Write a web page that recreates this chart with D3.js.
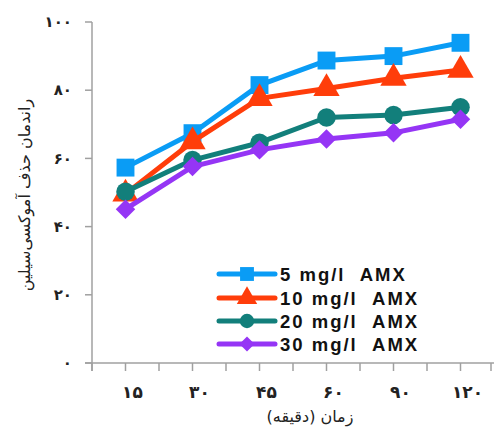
<!DOCTYPE html>
<html><head><meta charset="utf-8">
<script src="https://cdn.jsdelivr.net/npm/d3@7"></script>
<style>body{margin:0;background:#fff;}svg{display:block;}</style>
</head><body>
<svg id="c" width="494" height="430"></svg>
<script>
const categories = ["۱۵","۳۰","۴۵","۶۰","۹۰","۱۲۰"];
const yTickValues = [0,20,40,60,80,100];
const yTickLabels = ["۰","۲۰","۴۰","۶۰","۸۰","۱۰۰"];
const seriesNames = ["5 mg/l\u00a0\u00a0AMX","10 mg/l\u00a0\u00a0AMX","20 mg/l\u00a0\u00a0AMX","30 mg/l\u00a0\u00a0AMX"];
const s5  = [57.3, 67.4, 81.5, 88.7, 90.0, 93.9];
const s10 = [49.6, 64.9, 77.6, 80.5, 83.5, 85.9];
const s20 = [50.2, 59.5, 64.6, 72.0, 72.7, 75.0];
const s30 = [45.1, 57.6, 62.5, 65.7, 67.5, 71.5];
const colors = ["#0a9cf5","#ff3d0a","#127f7b","#9535f5"];
const symbols = [d3.symbolSquare, d3.symbolTriangle, d3.symbolCircle, d3.symbolSquare];
const symRot = [0, 0, 0, 45];
const symSizes = [320, 300, 270, 190];

const svg = d3.select("#c");
const L = 92, R = 494, T = 22, B = 363;
const x = d3.scaleBand().domain(categories).range([L, R]);
const y = d3.scaleLinear().domain([0,100]).range([B, T]);
const axisColor = "#a0a0a0";

// y axis
svg.append("line").attr("x1",L).attr("x2",L).attr("y1",T).attr("y2",B+8).attr("stroke",axisColor).attr("stroke-width",1.5);
yTickValues.forEach((v,i)=>{
  svg.append("line").attr("x1",L-7).attr("x2",L).attr("y1",y(v)).attr("y2",y(v)).attr("stroke",axisColor).attr("stroke-width",1.5);
  svg.append("text").attr("x",L-20).attr("y",y(v)).attr("dy","0.35em").attr("text-anchor","end")
    .attr("font-family","DejaVu Sans").attr("font-weight","bold").attr("font-size",15).attr("fill","#222").text(yTickLabels[i]);
});
// x axis
svg.append("line").attr("x1",L-7).attr("x2",R).attr("y1",B).attr("y2",B).attr("stroke",axisColor).attr("stroke-width",1.5);
const tickXs = [];
categories.forEach(c=>{ tickXs.push(x(c)); tickXs.push(x(c)+x.bandwidth()/2); });
tickXs.push(R-3);
tickXs.forEach(tx=>{
  svg.append("line").attr("x1",tx).attr("x2",tx).attr("y1",B).attr("y2",B+8).attr("stroke",axisColor).attr("stroke-width",1.5);
});
categories.forEach(c=>{
  svg.append("text").attr("x",x(c)+x.bandwidth()/2+7).attr("y",398).attr("text-anchor","middle")
    .attr("font-family","DejaVu Sans").attr("font-weight","bold").attr("font-size",17).attr("fill","#222").text(c);
});
svg.append("text").attr("x",310).attr("y",422).attr("text-anchor","middle")
  .attr("font-family","DejaVu Sans").attr("font-size",16).attr("fill","#222").text("زمان (دقیقه)");
svg.append("text").attr("transform","translate(30,195) rotate(-90)").attr("text-anchor","middle")
  .attr("font-family","DejaVu Sans").attr("font-size",16).attr("fill","#222").text("راندمان حذف آموکسی‌سیلین");

// series
const series = [s5, s10, s20, s30];
const line = d3.line().x((d,i)=>x(categories[i])+x.bandwidth()/2).y(d=>y(d));
series.forEach((s,k)=>{
  const g = svg.append("g");
  g.append("path").attr("d",line(s)).attr("fill","none").attr("stroke",colors[k]).attr("stroke-width",5).attr("stroke-linejoin","round");
  g.selectAll("path.m").data(s).enter().append("path").attr("class","m")
    .attr("transform",(d,i)=>`translate(${x(categories[i])+x.bandwidth()/2},${y(d)}) rotate(${symRot[k]})`)
    .attr("d",d3.symbol().type(symbols[k]).size(symSizes[k])).attr("fill",colors[k]);
});

// legend
const legY = [274, 298, 321, 344];
seriesNames.forEach((n,k)=>{
  svg.append("line").attr("x1",219).attr("x2",275).attr("y1",legY[k]).attr("y2",legY[k]).attr("stroke",colors[k]).attr("stroke-width",5).attr("stroke-linecap","round");
  svg.append("path").attr("transform",`translate(247,${legY[k]}) rotate(${symRot[k]})`).attr("d",d3.symbol().type(symbols[k]).size(symSizes[k]*0.6)).attr("fill",colors[k]);
  svg.append("text").attr("x",280).attr("y",legY[k]).attr("dy","0.36em")
    .attr("font-family","Liberation Sans").attr("font-weight","bold").attr("font-size",18.5).attr("letter-spacing",2).attr("fill","#111")
    .text(n);
});
</script>
</body></html>
